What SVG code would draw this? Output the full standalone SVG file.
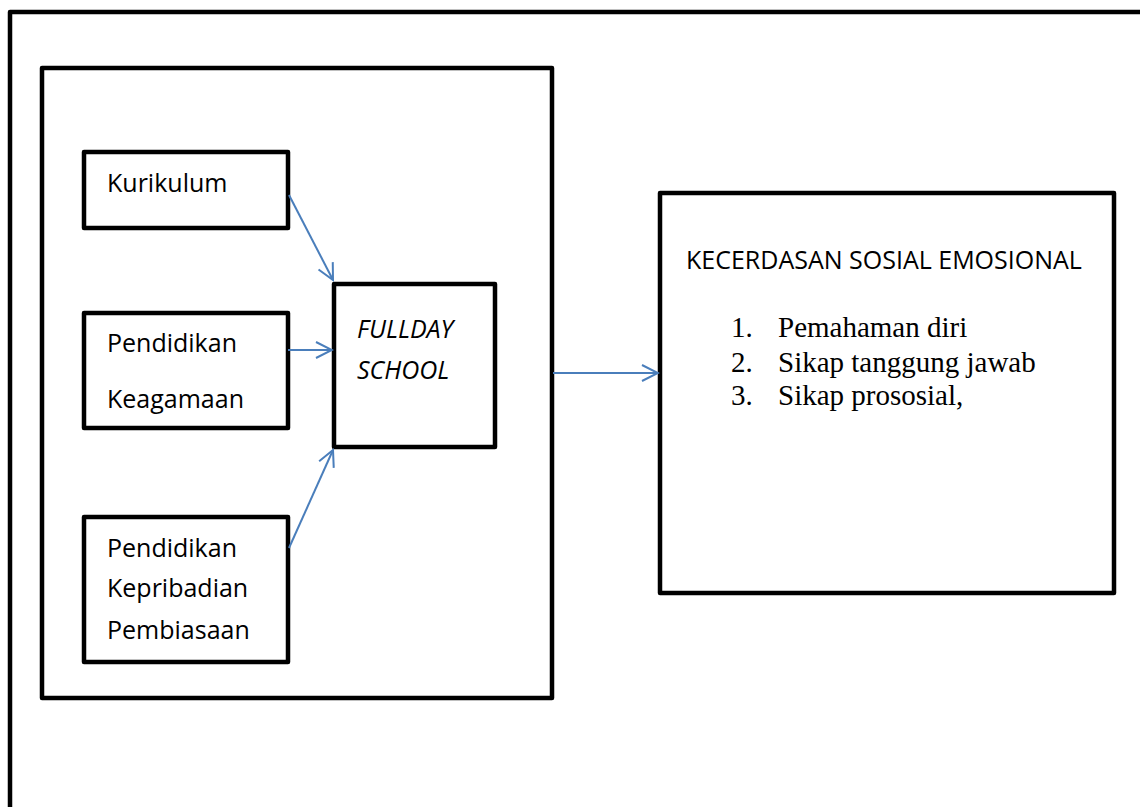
<svg xmlns="http://www.w3.org/2000/svg" width="1140" height="807" viewBox="0 0 1140 807">
<style>
.box{fill:#fff;stroke:#000;stroke-width:4.5;stroke-linejoin:round}
.lbl{font-family:"Open Sans","Liberation Sans",sans-serif;font-size:25px;fill:#000}
.it{font-style:italic}
.lst{font-family:"Liberation Serif","Times New Roman",serif;font-size:29px;fill:#000}
.con{stroke:#4a7ebb;stroke-width:2;fill:none}
</style>
<defs>
<marker id="ah" viewBox="0 0 20 20" refX="18" refY="10" markerWidth="20" markerHeight="20" markerUnits="userSpaceOnUse" orient="auto">
<path d="M2,2 L18,10 L2,18" fill="none" stroke="#4a7ebb" stroke-width="2"/>
</marker>
</defs>
<rect width="1140" height="807" fill="#fff"/>
<g id="frame"><rect class="box" x="10" y="12" width="1150" height="820"/></g>
<g id="group-box"><rect class="box" x="42" y="68" width="510" height="630"/></g>
<g id="kurikulum"><rect class="box" x="84" y="152" width="204" height="76"/><text class="lbl" x="107" y="192">Kurikulum</text></g>
<g id="keagamaan"><rect class="box" x="84" y="313" width="204" height="115"/><text class="lbl" x="107" y="352">Pendidikan</text><text class="lbl" x="107" y="408">Keagamaan</text></g>
<g id="kepribadian"><rect class="box" x="84" y="517" width="204" height="145"/><text class="lbl" x="107" y="557">Pendidikan</text><text class="lbl" x="107" y="597">Kepribadian</text><text class="lbl" x="107" y="639">Pembiasaan</text></g>
<g id="fullday"><rect class="box" x="334" y="284" width="161" height="163"/><text class="lbl it" x="357" y="338">FULLDAY</text><text class="lbl it" x="357" y="379">SCHOOL</text></g>
<g id="kecerdasan"><rect class="box" x="660" y="193" width="454" height="400"/>
<text class="lbl" x="686" y="269">KECERDASAN SOSIAL EMOSIONAL</text>
<text class="lst" x="731" y="337">1.</text><text class="lst" x="778" y="337">Pemahaman diri</text>
<text class="lst" x="731" y="372">2.</text><text class="lst" x="778" y="372">Sikap tanggung jawab</text>
<text class="lst" x="731" y="405">3.</text><text class="lst" x="778" y="405">Sikap prososial,</text>
</g>
<g id="connectors">
<line class="con" x1="289" y1="195" x2="333" y2="280" marker-end="url(#ah)"/>
<line class="con" x1="288" y1="350" x2="332" y2="350" marker-end="url(#ah)"/>
<line class="con" x1="289" y1="548" x2="333" y2="450" marker-end="url(#ah)"/>
<line class="con" x1="553" y1="373" x2="658" y2="373" marker-end="url(#ah)"/>
</g>
</svg>
